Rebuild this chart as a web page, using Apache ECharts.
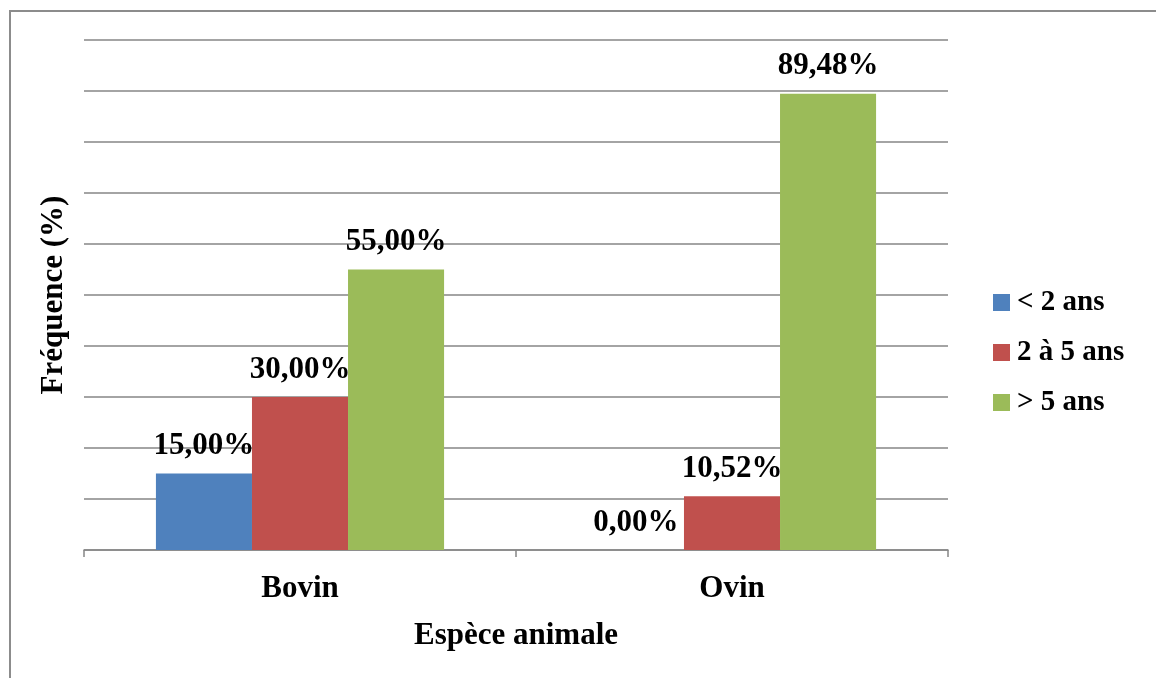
<!DOCTYPE html>
<html>
<head>
<meta charset="utf-8">
<script src="https://cdn.jsdelivr.net/npm/echarts@6/dist/echarts.min.js"></script>
<style>
  html, body { margin: 0; padding: 0; background: #fff; }
  #chart { width: 1156px; height: 678px; }
</style>
</head>
<body>
<div id="chart"></div>
<script>
// Age-class frequency by animal species
const categories = ['Bovin', 'Ovin'];
const seriesNames = ['< 2 ans', '2 à 5 ans', '> 5 ans'];
const lessThan2 = [15.00, 0.00];
const from2to5 = [30.00, 10.52];
const moreThan5 = [55.00, 89.48];
const colors = ['#4F81BD', '#C0504D', '#9BBB59'];

const font = '"Liberation Serif", "Times New Roman", serif';
const values = [lessThan2, from2to5, moreThan5];

const chart = echarts.init(document.getElementById('chart'));

const series = values.map((data, i) => ({
  name: seriesNames[i],
  type: 'bar',
  data: data,
  barGap: '0%',
  barCategoryGap: '33.3%',
  itemStyle: { color: colors[i] },
  label: {
    show: true,
    position: 'top',
    distance: 12,
    fontFamily: font,
    fontWeight: 'bold',
    fontSize: 31,
    color: '#000',
    formatter: p => p.value.toFixed(2).replace('.', ',') + '%'
  }
}));

chart.setOption({
  animation: false,
  backgroundColor: '#fff',
  graphic: [{
    type: 'rect',
    shape: { x: 10, y: 11, width: 1300, height: 800 },
    style: { fill: 'none', stroke: '#8c8c8c', lineWidth: 2 },
    silent: true
  }],
  grid: { left: 84, right: 208, top: 40, bottom: 128 },
  legend: {
    orient: 'vertical',
    left: 988,
    top: 283,
    itemWidth: 17,
    itemHeight: 17,
    itemGap: 21,
    icon: 'rect',
    textStyle: { fontFamily: font, fontWeight: 'bold', fontSize: 29, color: '#000', padding: [0, 0, 0, 2] },
    data: seriesNames
  },
  xAxis: {
    type: 'category',
    data: categories,
    name: 'Espèce animale',
    nameLocation: 'middle',
    nameGap: 70,
    nameTextStyle: { fontFamily: font, fontWeight: 'bold', fontSize: 31, color: '#000' },
    axisLine: { lineStyle: { color: '#868686', width: 1.5 } },
    axisTick: { show: true, length: 7, lineStyle: { color: '#868686', width: 1.5 } },
    axisLabel: { fontFamily: font, fontWeight: 'bold', fontSize: 31, color: '#000', margin: 23 }
  },
  yAxis: {
    type: 'value',
    min: 0,
    max: 100,
    interval: 10,
    name: 'Fréquence (%)',
    nameLocation: 'middle',
    nameGap: 15,
    nameRotate: 90,
    nameTextStyle: { fontFamily: font, fontWeight: 'bold', fontSize: 31, color: '#000' },
    axisLine: { show: false },
    axisTick: { show: false },
    axisLabel: { show: false },
    splitLine: { lineStyle: { color: '#868686', width: 1.5 } }
  },
  series: series
});
</script>
</body>
</html>
